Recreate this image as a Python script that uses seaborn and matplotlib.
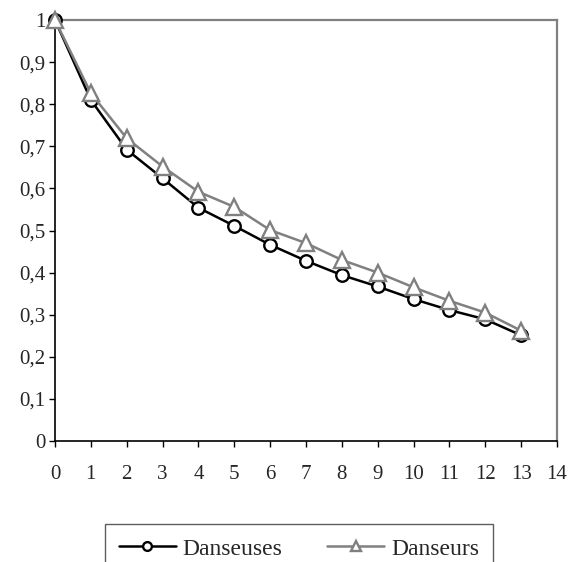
import matplotlib
matplotlib.use("Agg")
import matplotlib.pyplot as plt
import seaborn as sns
import pandas as pd

x_vals = list(range(14))
danseuses = [1.0, 0.81, 0.692, 0.624, 0.554, 0.511, 0.466, 0.428, 0.394, 0.367, 0.337, 0.311, 0.289, 0.251]
danseurs = [1.0, 0.826, 0.719, 0.652, 0.592, 0.556, 0.501, 0.47, 0.43, 0.40, 0.365, 0.333, 0.305, 0.262]
x_ticks = list(range(15))
y_ticks = [0, 0.1, 0.2, 0.3, 0.4, 0.5, 0.6, 0.7, 0.8, 0.9, 1.0]
y_labels = ["0", "0,1", "0,2", "0,3", "0,4", "0,5", "0,6", "0,7", "0,8", "0,9", "1"]

sns.set_style("white")
plt.rcParams['font.family'] = ['Liberation Serif', 'DejaVu Serif']

df = pd.DataFrame({"x": x_vals, "Danseuses": danseuses, "Danseurs": danseurs})

fig = plt.figure(figsize=(5.69, 5.62), dpi=100)
ax = fig.add_axes([55/569, 1 - 441/562, (557 - 55)/569, (441 - 20)/562])

sns.lineplot(data=df, x="x", y="Danseuses", ax=ax, color="black", linewidth=1.8,
             marker="o", markersize=9, markerfacecolor="white", markeredgecolor="black",
             markeredgewidth=1.7, label="Danseuses", zorder=3, clip_on=False)
sns.lineplot(data=df, x="x", y="Danseurs", ax=ax, color="#808080", linewidth=1.8,
             marker="^", markersize=11, markerfacecolor="white", markeredgecolor="#808080",
             markeredgewidth=1.7, label="Danseurs", zorder=4, clip_on=False)

ax.set_xlim(0, 14)
ax.set_ylim(0, 1)
ax.set_xticks(x_ticks)
ax.set_xticklabels([str(t) for t in x_ticks])
ax.set_yticks(y_ticks)
ax.set_yticklabels(y_labels)
ax.set_xlabel("")
ax.set_ylabel("")
ax.tick_params(axis="both", direction="out", length=4, width=1, color="black",
               labelsize=15, bottom=True, left=True, pad=3)
ax.tick_params(axis="x", pad=13)

for s in ["left", "bottom"]:
    ax.spines[s].set_color("black")
    ax.spines[s].set_linewidth(1.2)
for s in ["top", "right"]:
    ax.spines[s].set_color("#808080")
    ax.spines[s].set_linewidth(1.6)
    ax.spines[s].set_visible(True)

handles, labels = ax.get_legend_handles_labels()
order = [labels.index("Danseuses"), labels.index("Danseurs")]
if ax.get_legend():
    ax.get_legend().remove()
leg = fig.legend([handles[i] for i in order], [labels[i] for i in order],
                 loc="upper center", bbox_to_anchor=(299/569, 1 - 524/562),
                 ncol=2, frameon=True, fancybox=False, edgecolor="#333333",
                 fontsize=17, handlelength=2.4, markerscale=0.7,
                 columnspacing=1.9, handletextpad=0.3, borderpad=0.6,
                 borderaxespad=0)
leg.get_frame().set_linewidth(1.0)

fig.savefig("out.png", dpi=100)
